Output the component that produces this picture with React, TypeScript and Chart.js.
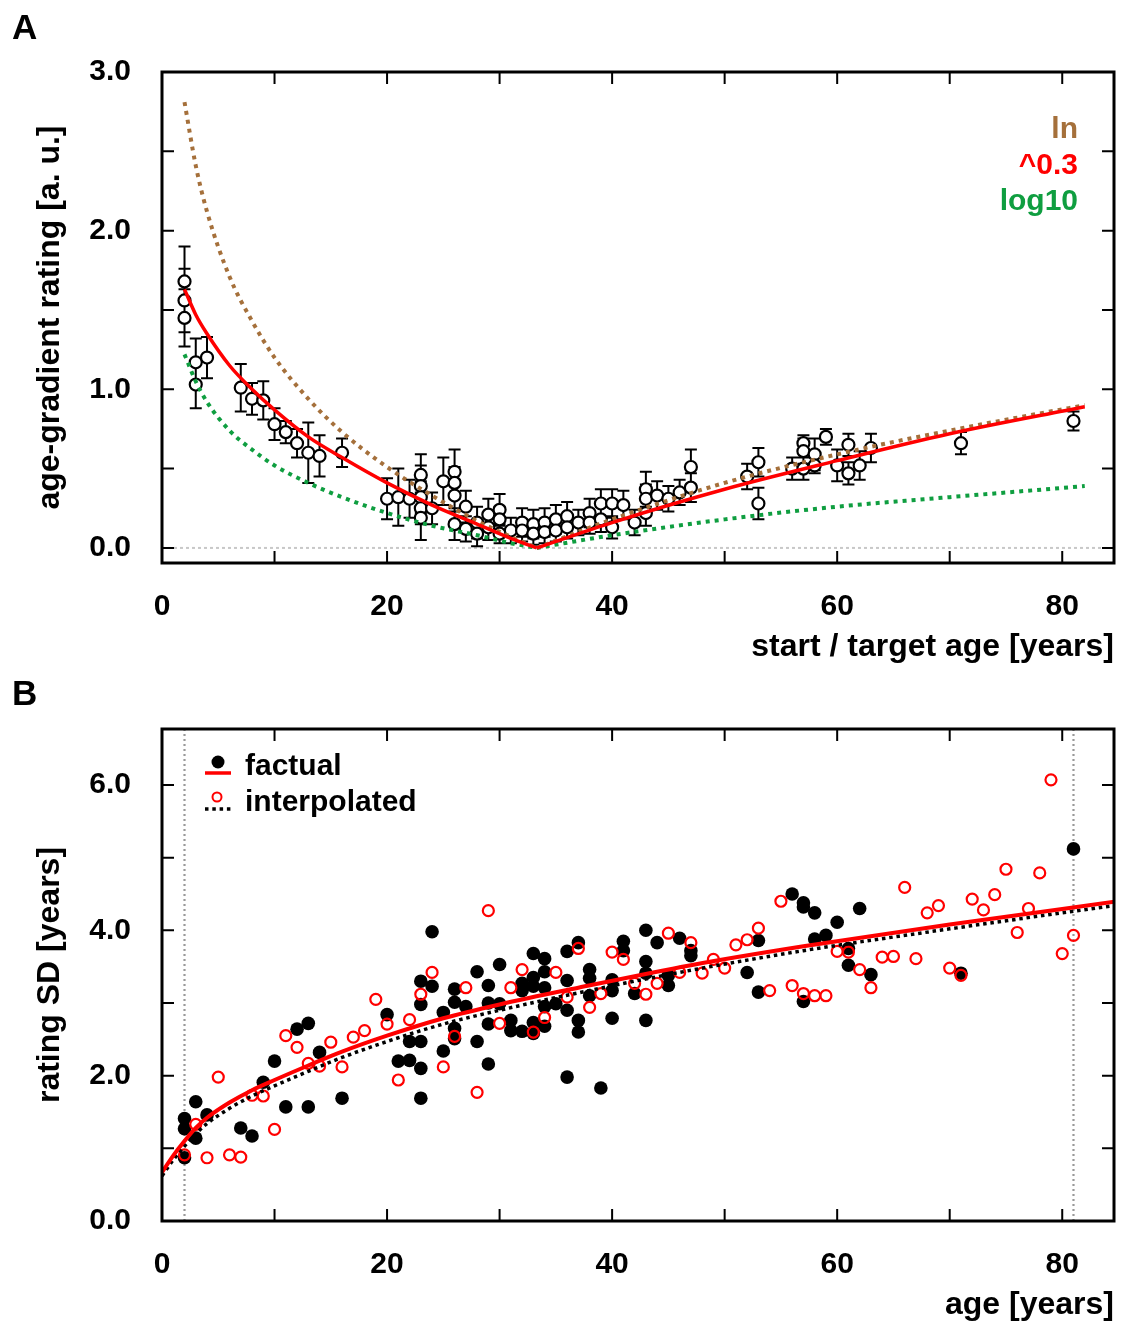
import React, { useEffect, useRef } from "react";
import { Chart, registerables } from "chart.js";

Chart.register(...registerables);

// ---------------- Panel A data ----------------
const ageA = [2,2,2,3,3,4,7,8,9,10,11,12,13,14,16,20,21,22,23,23,23,23,23,24,25,26,26,26,26,27,27,28,28,29,29,30,30,30,31,32,32,33,33,34,34,35,35,36,36,37,38,38,39,39,40,40,41,42,43,43,43,44,45,46,47,47,52,53,53,56,57,57,57,58,58,59,60,61,61,62,63,71,81];
const ratingA = [1.68,1.56,1.45,1.17,1.03,1.20,1.01,0.94,0.93,0.78,0.73,0.66,0.60,0.58,0.60,0.31,0.32,0.31,0.46,0.39,0.32,0.25,0.19,0.25,0.42,0.48,0.41,0.33,0.15,0.26,0.12,0.16,0.09,0.21,0.13,0.24,0.18,0.09,0.11,0.16,0.11,0.15,0.09,0.16,0.10,0.18,0.11,0.20,0.13,0.16,0.22,0.16,0.28,0.18,0.28,0.13,0.27,0.16,0.37,0.31,0.22,0.33,0.31,0.35,0.51,0.38,0.45,0.54,0.28,0.50,0.66,0.61,0.50,0.59,0.52,0.70,0.52,0.65,0.47,0.52,0.63,0.66,0.80];
const errA = [0.22,0.20,0.18,0.15,0.15,0.13,0.15,0.10,0.12,0.10,0.07,0.09,0.19,0.13,0.09,0.13,0.18,0.12,0.13,0.13,0.10,0.10,0.14,0.10,0.15,0.14,0.10,0.10,0.10,0.10,0.08,0.10,0.08,0.10,0.08,0.10,0.08,0.06,0.08,0.09,0.07,0.09,0.07,0.09,0.07,0.09,0.07,0.09,0.07,0.08,0.09,0.07,0.09,0.08,0.09,0.07,0.09,0.08,0.11,0.09,0.08,0.09,0.08,0.08,0.11,0.09,0.08,0.09,0.10,0.07,0.05,0.08,0.07,0.10,0.05,0.05,0.10,0.07,0.07,0.09,0.09,0.07,0.06];

const fitXLeft = [2, 3, 4, 6, 8, 10, 13, 16, 20, 24, 28, 31, 33.3];
const fitXRight = [33.3, 40, 50, 60, 70, 82];
const lnLeft = [2.81, 2.41, 2.12, 1.71, 1.43, 1.20, 0.94, 0.73, 0.51, 0.33, 0.17, 0.07, 0];
const lnRight = [0, 0.18, 0.41, 0.59, 0.74, 0.90];
const powLeft = [1.63, 1.47, 1.35, 1.15, 1.00, 0.87, 0.70, 0.57, 0.41, 0.27, 0.15, 0.06, 0];
const powRight = [0, 0.16, 0.37, 0.55, 0.72, 0.89];
const logLeft = [1.22, 1.05, 0.92, 0.74, 0.62, 0.52, 0.41, 0.32, 0.22, 0.14, 0.08, 0.03, 0];
const logRight = [0, 0.08, 0.18, 0.26, 0.32, 0.39];

const xTicksMajor = [0, 20, 40, 60, 80];
const xTicksMinor = [10, 30, 50, 70];
const yTicksA = [0, 1, 2, 3];
const yMinorA = [0.5, 1.5, 2.5];
const legendA = ["ln", "^0.3", "log10"];

// ---------------- Panel B data ----------------
const factualAge = [2,2,2,3,3,4,7,8,9,10,11,12,13,13,14,16,20,21,22,22,23,23,23,23,23,24,24,25,25,26,26,26,26,27,28,28,29,29,29,29,30,30,31,31,32,32,32,33,33,33,33,33,34,34,34,34,34,35,36,36,36,36,37,37,37,38,38,38,39,40,40,40,41,41,42,43,43,43,43,44,45,45,46,47,47,52,53,53,56,57,57,57,58,58,59,60,61,61,62,63,71,81];
const factualSD = [1.41,1.27,0.87,1.64,1.14,1.46,1.28,1.17,1.91,2.20,1.57,2.64,2.72,1.57,2.32,1.69,2.84,2.20,2.47,2.21,3.30,2.98,2.47,2.10,1.69,3.98,3.23,2.87,2.34,3.19,3.01,2.65,2.51,2.95,3.43,2.47,3.24,3.00,2.71,2.16,3.53,2.99,2.76,2.62,3.27,3.17,2.61,3.68,3.35,3.23,2.73,2.58,3.61,3.43,3.21,2.95,2.68,2.99,3.71,3.31,2.90,1.98,3.83,2.76,2.60,3.46,3.34,3.10,1.83,3.32,3.17,2.79,3.85,3.72,3.13,4.00,3.57,3.41,2.76,3.83,3.38,3.24,3.89,3.72,3.65,3.42,3.86,3.15,4.50,4.38,4.32,3.02,4.24,3.88,3.93,4.11,3.75,3.52,4.30,3.39,3.41,5.12];
const interpAge = [2,3,4,5,6,7,8,9,10,11,12,13,14,15,16,17,18,19,20,21,22,23,24,25,26,27,28,29,30,31,32,33,34,35,36,37,38,39,40,41,42,43,44,45,46,47,48,49,50,51,52,53,54,55,56,57,58,59,60,61,62,63,64,65,66,67,68,69,70,71,72,73,74,75,76,77,78,79,80,81];
const interpSD = [0.91,1.33,0.87,1.98,0.91,0.88,1.73,1.72,1.26,2.55,2.39,2.17,2.13,2.46,2.12,2.53,2.62,3.05,2.71,1.94,2.77,3.12,3.42,2.12,2.54,3.21,1.77,4.27,2.72,3.21,3.46,2.60,2.80,3.42,3.08,3.75,2.94,3.13,3.70,3.60,3.27,3.12,3.27,3.96,3.42,3.83,3.41,3.60,3.48,3.80,3.87,4.03,3.17,4.40,3.24,3.13,3.10,3.10,3.71,3.70,3.46,3.21,3.63,3.64,4.59,3.61,4.24,4.34,3.48,3.38,4.43,4.28,4.49,4.84,3.97,4.30,4.79,6.07,3.68,3.93];
const fitAgeB = [0, 1, 2, 3, 4, 6, 8, 10, 13, 16, 20, 25, 30, 37, 47, 57, 70, 85];
const fitFactual = [0.67, 0.90, 1.10, 1.28, 1.42, 1.63, 1.80, 1.94, 2.14, 2.33, 2.55, 2.79, 2.98, 3.21, 3.52, 3.78, 4.08, 4.40];
const fitInterp = [0.62, 0.84, 1.03, 1.20, 1.34, 1.55, 1.72, 1.86, 2.06, 2.25, 2.47, 2.71, 2.90, 3.14, 3.45, 3.72, 4.02, 4.35];
const yTicksB = [0, 2, 4, 6];
const yMinorB = [1, 3, 5];
const legendB = ["factual", "interpolated"];

// ---------------- styling ----------------
const FAMILY = "'Liberation Sans', Arial, Helvetica, sans-serif";
const RED = "#ff0000";
const BROWN = "#a5703b";
const GREEN = "#0f9e40";
const tickFont = { family: FAMILY, size: 30, weight: "bold" as const };
const titleFont = { family: FAMILY, size: 32, weight: "bold" as const };

const pts = (xs: number[], ys: number[]) => xs.map((x, i) => ({ x, y: ys[i] }));

const framePlugin = (yMajor: number[], yMinor: number[], label: string, labelY: number) => ({
  id: "frameTicks",
  afterDatasetsDraw(chart: any) {
    const { ctx, chartArea: a, scales } = chart;
    const x = scales.x, y = scales.y;
    const L = 12;
    ctx.save();
    ctx.strokeStyle = "#000";
    ctx.lineWidth = 2;
    ctx.beginPath();
    for (const v of [...xTicksMajor, ...xTicksMinor]) {
      const px = x.getPixelForValue(v);
      ctx.moveTo(px, a.bottom);
      ctx.lineTo(px, a.bottom - L);
      ctx.moveTo(px, a.top);
      ctx.lineTo(px, a.top + L);
    }
    for (const v of [...yMajor, ...yMinor]) {
      const py = y.getPixelForValue(v);
      ctx.moveTo(a.left, py);
      ctx.lineTo(a.left + L, py);
      ctx.moveTo(a.right, py);
      ctx.lineTo(a.right - L, py);
    }
    ctx.stroke();
    ctx.lineWidth = 3;
    ctx.strokeRect(a.left, a.top, a.right - a.left, a.bottom - a.top);
    ctx.fillStyle = "#000";
    ctx.font = `bold 35px ${FAMILY}`;
    ctx.textAlign = "left";
    ctx.textBaseline = "alphabetic";
    ctx.fillText(label, 12, labelY);
    ctx.restore();
  },
});

const baseScales = (yMin: number, yMax: number, yTicks: number[], xTitle: string, yTitle: string, xH: number, xTitlePad: number) => ({
  x: {
    type: "linear" as const,
    min: 0,
    max: 84.6,
    grid: { display: false, drawTicks: false },
    border: { display: false },
    afterBuildTicks: (s: any) => {
      s.ticks = xTicksMajor.map((v) => ({ value: v }));
    },
    afterFit: (s: any) => {
      s.height = xH;
    },
    ticks: { font: tickFont, color: "#000", padding: 26, maxRotation: 0, callback: (v: any) => String(v) },
    title: { display: true, text: xTitle, align: "end" as const, color: "#000", font: titleFont, padding: { top: 0, bottom: xTitlePad } },
  },
  y: {
    type: "linear" as const,
    min: yMin,
    max: yMax,
    grid: { display: false, drawTicks: false },
    border: { display: false },
    afterBuildTicks: (s: any) => {
      s.ticks = yTicks.map((v) => ({ value: v }));
    },
    afterFit: (s: any) => {
      s.width = 162;
    },
    ticks: { font: tickFont, color: "#000", padding: 31, callback: (v: any) => Number(v).toFixed(1) },
    title: { display: true, text: yTitle, color: "#000", font: titleFont, padding: { top: 31, bottom: 0 } },
  },
});

export default function App() {
  const refA = useRef<HTMLCanvasElement>(null);
  const refB = useRef<HTMLCanvasElement>(null);

  useEffect(() => {
    const curve = (data: any[], color: string, width: number, dash: number[]) => ({
      data,
      showLine: true,
      borderColor: color,
      borderWidth: width,
      borderDash: dash,
      borderCapStyle: "butt",
      pointRadius: 0,
      cubicInterpolationMode: "monotone",
      fill: false,
    });

    const errorBarsA = {
      id: "errorBarsA",
      beforeDatasetsDraw(chart: any) {
        const { ctx, chartArea: a, scales } = chart;
        const x = scales.x, y = scales.y;
        ctx.save();
        ctx.strokeStyle = "#c8c8c8";
        ctx.lineWidth = 2;
        ctx.setLineDash([3, 3]);
        ctx.beginPath();
        ctx.moveTo(a.left, y.getPixelForValue(0));
        ctx.lineTo(a.right, y.getPixelForValue(0));
        ctx.stroke();
        ctx.setLineDash([]);
        ctx.strokeStyle = "#000";
        ctx.lineWidth = 2;
        ctx.beginPath();
        ageA.forEach((age, i) => {
          const px = x.getPixelForValue(age);
          const hi = y.getPixelForValue(ratingA[i] + errA[i]);
          const lo = y.getPixelForValue(ratingA[i] - errA[i]);
          ctx.moveTo(px, hi);
          ctx.lineTo(px, lo);
          ctx.moveTo(px - 6, hi);
          ctx.lineTo(px + 6, hi);
          ctx.moveTo(px - 6, lo);
          ctx.lineTo(px + 6, lo);
        });
        ctx.stroke();
        ctx.restore();
      },
      afterDraw(chart: any) {
        const { ctx, chartArea: a } = chart;
        ctx.save();
        ctx.font = `bold 30px ${FAMILY}`;
        ctx.textAlign = "right";
        ctx.textBaseline = "alphabetic";
        const cols = [BROWN, RED, GREEN];
        const base = [66, 102, 138];
        legendA.forEach((t, i) => {
          ctx.fillStyle = cols[i];
          ctx.fillText(t, a.right - 36, a.top + base[i]);
        });
        ctx.restore();
      },
    };

    const chartA = new Chart(refA.current as HTMLCanvasElement, {
      type: "scatter",
      data: {
        datasets: [
          curve(pts(fitXLeft, powLeft), RED, 3.5, []),
          curve(pts(fitXRight, powRight), RED, 3.5, []),
          curve(pts(fitXLeft, lnLeft), BROWN, 4, [4, 5]),
          curve(pts(fitXRight, lnRight), BROWN, 4, [4, 5]),
          curve(pts(fitXLeft, logLeft), GREEN, 4, [4, 5]),
          curve(pts(fitXRight, logRight), GREEN, 4, [4, 5]),
          {
            data: pts(ageA, ratingA),
            showLine: false,
            pointStyle: "circle",
            pointRadius: 6,
            pointBorderWidth: 2.2,
            pointBorderColor: "#000",
            pointBackgroundColor: "#fff",
            borderColor: "#000",
            backgroundColor: "#fff",
          },
        ] as any,
      },
      options: {
        responsive: false,
        animation: false,
        events: [],
        devicePixelRatio: 1,
        layout: { padding: { left: 0, right: 11, top: 72, bottom: 0 } },
        plugins: { legend: { display: false }, tooltip: { enabled: false } },
        scales: baseScales(-0.095, 3.0, yTicksA, "start / target age [years]", "age-gradient rating [a. u.]", 107, 4) as any,
      },
      plugins: [errorBarsA, framePlugin(yTicksA, yMinorA, "A", 39)],
    });

    const extrasB = {
      id: "extrasB",
      beforeDatasetsDraw(chart: any) {
        const { ctx, chartArea: a, scales } = chart;
        ctx.save();
        ctx.strokeStyle = "#999999";
        ctx.lineWidth = 2.2;
        ctx.setLineDash([2, 3]);
        ctx.beginPath();
        for (const v of [2, 81]) {
          const px = scales.x.getPixelForValue(v);
          ctx.moveTo(px, a.top);
          ctx.lineTo(px, a.bottom);
        }
        ctx.stroke();
        ctx.restore();
      },
      afterDraw(chart: any) {
        const { ctx, chartArea: a } = chart;
        const L = a.left, T = a.top;
        ctx.save();
        ctx.fillStyle = "#000";
        ctx.beginPath();
        ctx.arc(L + 56, T + 33, 6.5, 0, Math.PI * 2);
        ctx.fill();
        ctx.strokeStyle = RED;
        ctx.lineWidth = 3.5;
        ctx.beginPath();
        ctx.moveTo(L + 43, T + 44);
        ctx.lineTo(L + 69, T + 44);
        ctx.stroke();
        ctx.lineWidth = 2;
        ctx.beginPath();
        ctx.arc(L + 55, T + 68, 4.5, 0, Math.PI * 2);
        ctx.stroke();
        ctx.strokeStyle = "#000";
        ctx.lineWidth = 3.5;
        ctx.setLineDash([3.5, 3.8]);
        ctx.beginPath();
        ctx.moveTo(L + 43, T + 80);
        ctx.lineTo(L + 70, T + 80);
        ctx.stroke();
        ctx.setLineDash([]);
        ctx.font = `bold 30px ${FAMILY}`;
        ctx.textAlign = "left";
        ctx.textBaseline = "alphabetic";
        ctx.fillStyle = "#000";
        ctx.fillText(legendB[0], L + 83, T + 46);
        ctx.fillText(legendB[1], L + 83, T + 82);
        ctx.restore();
      },
    };

    const chartB = new Chart(refB.current as HTMLCanvasElement, {
      type: "scatter",
      data: {
        datasets: [
          curve(pts(fitAgeB, fitFactual), RED, 4, []),
          curve(pts(fitAgeB, fitInterp), "#000", 3.5, [3.5, 3.8]),
          {
            data: pts(interpAge, interpSD),
            showLine: false,
            pointStyle: "circle",
            pointRadius: 5.5,
            pointBorderWidth: 2.2,
            pointBorderColor: RED,
            pointBackgroundColor: "rgba(255,255,255,0)",
            borderColor: RED,
            backgroundColor: "rgba(255,255,255,0)",
          },
          {
            data: pts(factualAge, factualSD),
            showLine: false,
            pointStyle: "circle",
            pointRadius: 6.8,
            pointBorderWidth: 0,
            pointBorderColor: "#000",
            pointBackgroundColor: "#000",
            borderColor: "#000",
            backgroundColor: "#000",
          },
        ] as any,
      },
      options: {
        responsive: false,
        animation: false,
        events: [],
        devicePixelRatio: 1,
        layout: { padding: { left: 0, right: 11, top: 59, bottom: 0 } },
        plugins: { legend: { display: false }, tooltip: { enabled: false } },
        scales: baseScales(0, 6.77, yTicksB, "age [years]", "rating SD [years]", 103, 0) as any,
      },
      plugins: [extrasB, framePlugin(yTicksB, yMinorB, "B", 35)],
    });

    return () => {
      chartA.destroy();
      chartB.destroy();
    };
  }, []);

  return (
    <div style={{ position: "absolute", left: 0, top: 0, width: 1125, height: 1324, background: "#fff" }}>
      <canvas ref={refA} width={1125} height={670} style={{ position: "absolute", left: 0, top: 0, width: 1125, height: 670 }} />
      <canvas ref={refB} width={1125} height={654} style={{ position: "absolute", left: 0, top: 670, width: 1125, height: 654 }} />
    </div>
  );
}
